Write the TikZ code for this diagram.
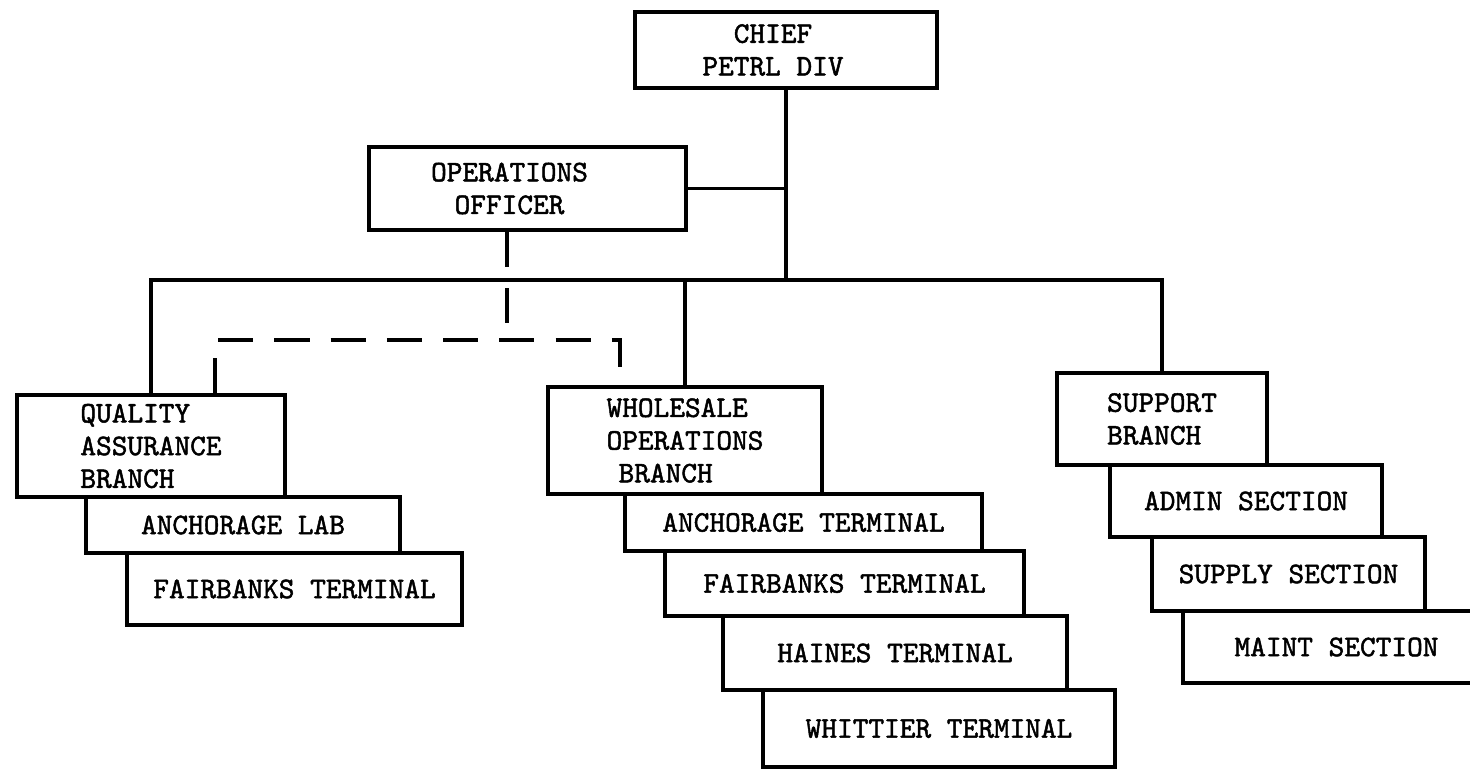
\documentclass[tikz,border=0pt]{standalone}
\usepackage{fontspec}
\newfontfamily\typefont{lmmono10-regular.otf}[FakeBold=1.6]
\begin{document}
\begin{tikzpicture}[x=1cm,y=-1cm,
		box/.style={draw,black,line width=1.1pt,rectangle,inner sep=0pt,
			font=\fontsize{8.5}{9.3}\typefont},
		link/.style={black,line width=1.1pt},
		dashlink/.style={black,line width=1.1pt,dash pattern=on 10pt off 6pt}]
	\path[use as bounding box,clip] (0,0) rectangle (14.70,7.71);
	\fill[white] (0,0) rectangle (14.70,7.71);
	% top
	\node[box,align=center,minimum width=3.02cm,minimum height=0.76cm] (chief) at (7.86,0.50)
		{CHIEF\hspace*{0.26cm}\\PETRL DIV\hspace*{0.26cm}};
	\node[box,align=center,minimum width=3.17cm,minimum height=0.83cm] (ops) at (5.275,1.885)
		{OPERATIONS\hspace*{0.36cm}\\OFFICER\hspace*{0.36cm}};
	% quality assurance
	\node[box,align=left,minimum width=2.68cm,minimum height=1.02cm] (qa) at (1.51,4.46)
		{QUALITY\\ASSURANCE\\BRANCH};
	\node[box,minimum width=3.14cm,minimum height=0.56cm] (alab) at (2.43,5.25)
		{ANCHORAGE LAB};
	\node[box,minimum width=3.35cm,minimum height=0.72cm] (qfbk) at (2.945,5.89)
		{FAIRBANKS TERMINAL};
	% wholesale operations
	\node[box,align=left,minimum width=2.74cm,minimum height=1.07cm] (wh) at (6.85,4.405)
		{WHOLESALE\\OPERATIONS\\\hspace{0.12cm}BRANCH};
	\node[box,minimum width=3.57cm,minimum height=0.57cm] (anct) at (8.035,5.225)
		{ANCHORAGE TERMINAL};
	\node[box,minimum width=3.59cm,minimum height=0.65cm] (fbkt) at (8.445,5.835)
		{FAIRBANKS TERMINAL};
	\node[box,minimum width=3.44cm,minimum height=0.74cm] (hain) at (8.95,6.53)
		{HAINES TERMINAL};
	\node[box,minimum width=3.52cm,minimum height=0.77cm] (whit) at (9.39,7.285)
		{WHITTIER TERMINAL};
	% support
	\node[box,align=left,minimum width=2.10cm,minimum height=0.92cm] (sup) at (11.62,4.19)
		{SUPPORT\\BRANCH};
	\node[box,minimum width=2.72cm,minimum height=0.72cm] (adm) at (12.46,5.01)
		{ADMIN SECTION};
	\node[box,minimum width=2.73cm,minimum height=0.74cm] (sply) at (12.885,5.74)
		{SUPPLY SECTION};
	\node[box,minimum width=3.07cm,minimum height=0.72cm] (mnt) at (13.365,6.47)
		{MAINT SECTION};
	% lines
	\coordinate (bus) at (7.86,2.80);
	\draw[link] (chief.south) -- (chief.south |- bus);
	\draw[link] (ops.east) -- (ops.east -| chief.south);
	\draw[link] (qa.north) |- (bus) -| (sup.north);
	\draw[link] (wh.north) -- (wh.north |- bus);
	% dashed
	\coordinate (tee) at (5.07,3.40);
	\coordinate (dl) at (2.15,3.40);
	\coordinate (dr) at (6.20,3.40);
	\draw[dashlink] (ops.south -| tee) -- (tee);
	\draw[dashlink] (qa.north -| dl) -- (dl) -- (dr) -- (wh.north -| dr);
\end{tikzpicture}
\end{document}
